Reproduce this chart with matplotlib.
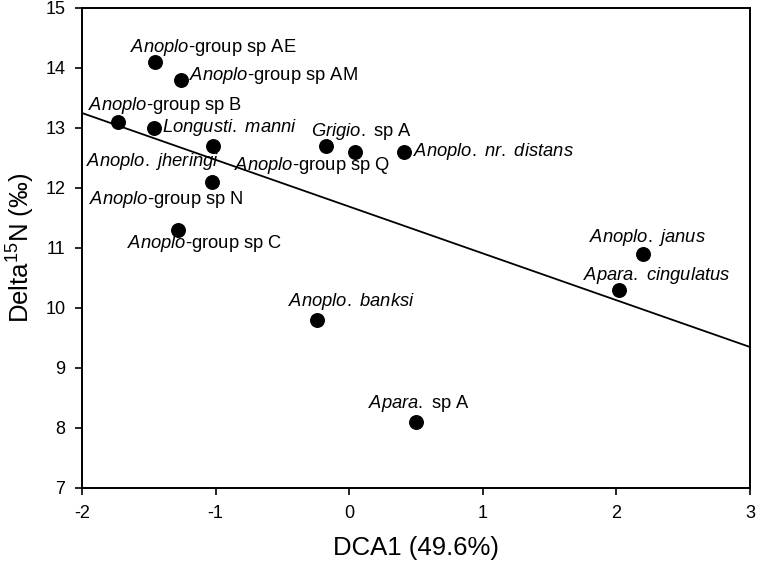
import matplotlib
matplotlib.use("Agg")
import matplotlib.pyplot as plt

plt.rcParams['font.family'] = ['Liberation Sans', 'DejaVu Sans']
plt.rcParams['mathtext.fontset'] = 'custom'
plt.rcParams['mathtext.rm'] = 'Liberation Sans'
plt.rcParams['mathtext.it'] = 'Liberation Sans:italic'
plt.rcParams['axes.unicode_minus'] = False

# DCA1 score and delta 15N per taxon
labels = [r"$\it{Anoplo}$-group sp AE", r"$\it{Anoplo}$-group sp AM",
          r"$\it{Anoplo}$-group sp B", r"$\it{Longusti.\ manni}$",
          r"$\it{Anoplo.\ jheringi}$", r"$\it{Anoplo}$-group sp N",
          r"$\it{Anoplo}$-group sp C", r"$\it{Grigio.}$ sp A",
          r"$\it{Anoplo}$-group sp Q", r"$\it{Anoplo.\ nr.\ distans}$",
          r"$\it{Anoplo.\ banksi}$", r"$\it{Apara.}$ sp A",
          r"$\it{Anoplo.\ janus}$", r"$\it{Apara.\ cingulatus}$"]
dca1 = [-1.45, -1.26, -1.73, -1.46, -1.02, -1.03, -1.28, -0.17, 0.04, 0.41,
        -0.24, 0.50, 2.20, 2.02]
d15n = [14.1, 13.8, 13.1, 13.0, 12.7, 12.1, 11.3, 12.7, 12.6, 12.6,
        9.8, 8.1, 10.9, 10.3]

# fitted line end points
line_x = [-2, 3]
line_y = [13.25, 9.35]

# label offsets (pixels) and alignment
offsets = [(58, 15), (8, 4), (47, 17), (8, 1), (-60, -16), (-45, -17),
           (26, -14), (35, 15), (-42, -13), (9, 0), (34, 18), (3, 18),
           (4, 16), (38, 14)]
aligns = ['center', 'left', 'center', 'left', 'center', 'center', 'center',
          'center', 'center', 'left', 'center', 'center', 'center', 'center']

fig = plt.figure(figsize=(7.58, 5.66), dpi=100)
ax = fig.add_axes([82 / 758, 1 - 488 / 566, 668 / 758, 480 / 566])

ax.plot(line_x, line_y, color='black', lw=1.3)
ax.scatter(dca1, d15n, s=95, color='black', zorder=3)

for lab, x, y, off, ha in zip(labels, dca1, d15n, offsets, aligns):
    ax.annotate(lab, (x, y), xytext=off, textcoords='offset pixels',
                ha=ha, va='center', fontsize=13.2)

ax.set_xlim(-2, 3)
ax.set_ylim(7, 15)
ax.set_xticks([-2, -1, 0, 1, 2, 3])
ax.set_yticks(range(7, 16))
ax.tick_params(direction='out', length=5, width=1.2, labelsize=13, pad=7,
               top=False, right=False)
for sp in ax.spines.values():
    sp.set_linewidth(1.4)

ax.set_xlabel('DCA1 (49.6%)', fontsize=18.5, labelpad=10)
ax.set_ylabel('Delta$^{15}$N (‰)', fontsize=18.5, labelpad=6)

fig.savefig('out.png', dpi=100)
